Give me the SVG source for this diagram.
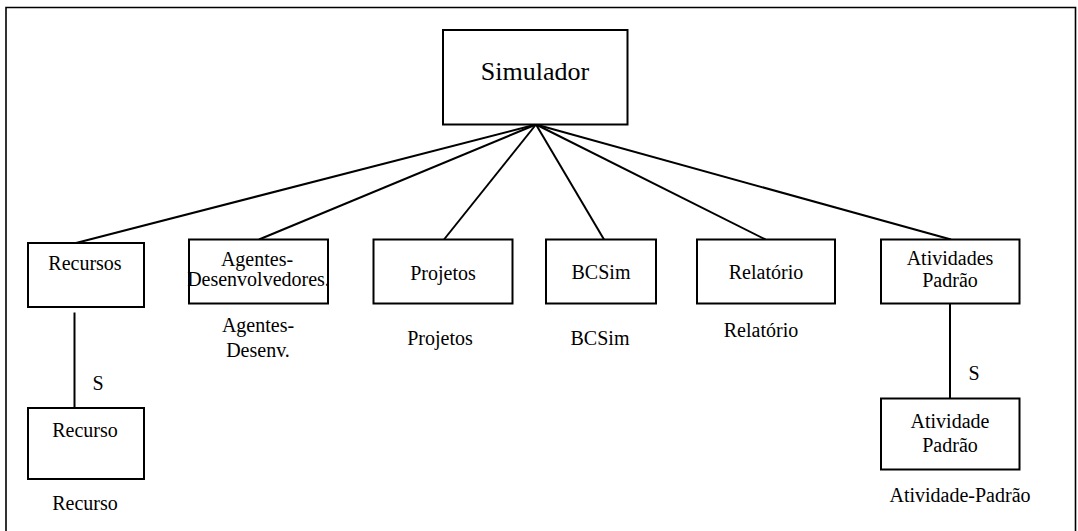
<svg xmlns="http://www.w3.org/2000/svg" width="1078" height="531" viewBox="0 0 1078 531">
  <defs>
    <style type="text/css">
      .box { fill: #ffffff; stroke: #000000; stroke-width: 2; }
      .link { stroke: #000000; stroke-width: 2; fill: none; }
      .frame { fill: none; stroke: #000000; stroke-width: 1.6; }
      .lbl { font-family: "Liberation Serif", "Times New Roman", Times, serif; font-size: 20px; fill: #000000; text-anchor: middle; }
      .big { font-size: 26px; }
    </style>
  </defs>
  <rect width="1078" height="531" fill="#ffffff"/>
  <!-- outer frame, open at the bottom edge -->
  <path class="frame" d="M6,540 V7.5 H1075.5 V540"/>

  <!-- connectors -->
  <g id="connectors">
    <line class="link" x1="536" y1="124.5" x2="76" y2="243"/>
    <line class="link" x1="536" y1="124.5" x2="259" y2="239.5"/>
    <line class="link" x1="536" y1="124.5" x2="444" y2="239.5"/>
    <line class="link" x1="536" y1="124.5" x2="604" y2="239.5"/>
    <line class="link" x1="536" y1="124.5" x2="765.5" y2="239.5"/>
    <line class="link" x1="536" y1="124.5" x2="951" y2="239.5"/>
    <line class="link" x1="74.5" y1="312.5" x2="74.5" y2="408"/>
    <text class="lbl" font-family="Liberation Serif" x="98" y="390">S</text>
    <line class="link" x1="950" y1="303.5" x2="950" y2="398.5"/>
    <text class="lbl" font-family="Liberation Serif" x="974" y="380">S</text>
  </g>

  <g id="simulador">
    <rect class="box" x="443" y="30" width="184.5" height="94.5"/>
    <text class="lbl big" font-family="Liberation Serif" x="535" y="80">Simulador</text>
  </g>

  <g id="recursos">
    <rect class="box" x="28" y="243" width="116" height="64"/>
    <text class="lbl" font-family="Liberation Serif" x="85" y="270">Recursos</text>
  </g>

  <g id="agentes">
    <rect class="box" x="189" y="239.5" width="139" height="64"/>
    <text class="lbl" font-family="Liberation Serif" x="257" y="266">Agentes-</text>
    <text class="lbl" font-family="Liberation Serif" x="258.5" y="286">Desenvolvedores.</text>
    <text class="lbl" font-family="Liberation Serif" x="258" y="332">Agentes-</text>
    <text class="lbl" font-family="Liberation Serif" x="258" y="357">Desenv.</text>
  </g>

  <g id="projetos">
    <rect class="box" x="373.5" y="239.5" width="139" height="64"/>
    <text class="lbl" font-family="Liberation Serif" x="443" y="279.5">Projetos</text>
    <text class="lbl" font-family="Liberation Serif" x="440" y="345">Projetos</text>
  </g>

  <g id="bcsim">
    <rect class="box" x="546" y="239.5" width="110" height="64"/>
    <text class="lbl" font-family="Liberation Serif" x="601" y="279">BCSim</text>
    <text class="lbl" font-family="Liberation Serif" x="600" y="345">BCSim</text>
  </g>

  <g id="relatorio">
    <rect class="box" x="697" y="239.5" width="138" height="64"/>
    <text class="lbl" font-family="Liberation Serif" x="766" y="279">Relatório</text>
    <text class="lbl" font-family="Liberation Serif" x="761" y="337">Relatório</text>
  </g>

  <g id="atividades">
    <rect class="box" x="881" y="239.5" width="138.5" height="64"/>
    <text class="lbl" font-family="Liberation Serif" x="950" y="265">Atividades</text>
    <text class="lbl" font-family="Liberation Serif" x="950" y="287">Padrão</text>
  </g>

  <g id="recurso">
    <rect class="box" x="28" y="408" width="116" height="71"/>
    <text class="lbl" font-family="Liberation Serif" x="85" y="437">Recurso</text>
    <text class="lbl" font-family="Liberation Serif" x="85" y="510">Recurso</text>
  </g>

  <g id="atividade">
    <rect class="box" x="881" y="398.5" width="138.5" height="71"/>
    <text class="lbl" font-family="Liberation Serif" x="950" y="427.5">Atividade</text>
    <text class="lbl" font-family="Liberation Serif" x="950" y="452">Padrão</text>
    <text class="lbl" font-family="Liberation Serif" x="960" y="502">Atividade-Padrão</text>
  </g>
</svg>
